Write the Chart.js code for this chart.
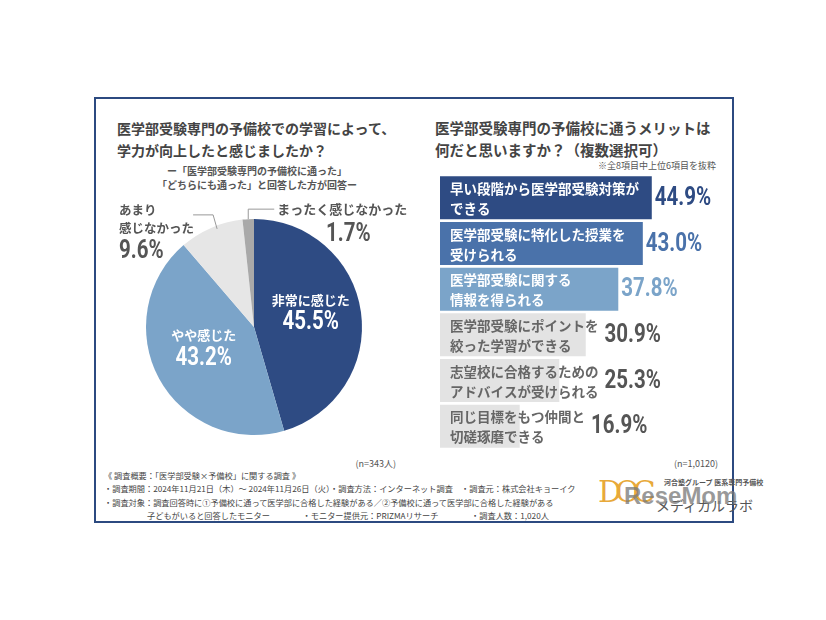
<!DOCTYPE html>
<html><head><meta charset="utf-8">
<script src="https://cdn.jsdelivr.net/npm/chart.js@4.4.0/dist/chart.umd.min.js"></script>
<style>
body{margin:0;background:#fff;width:826px;height:620px;position:relative;overflow:hidden;font-family:"Noto Sans CJK JP","Noto Sans",sans-serif;}
.frame{position:absolute;left:94px;top:97px;width:640px;height:426px;border:2px solid #2c4a80;box-sizing:border-box;}
.t{position:absolute;white-space:nowrap;color:#444;font-weight:bold;}
.title{font-size:14px;line-height:22px;}
.sub{font-size:10px;line-height:14px;text-align:center;color:#555;}
.note{font-size:9px;line-height:12px;color:#555;font-weight:normal;}
.foot{font-size:8.2px;line-height:13.3px;color:#444;font-weight:normal;}
canvas{position:absolute;}
</style></head><body>
<div class="frame"></div>
<div class="t title" style="left:117px;top:117px;">医学部受験専門の予備校での学習によって、<br>学力が向上したと感じましたか？</div>
<div class="t sub" style="left:157px;top:164px;width:200px;">ー「医学部受験専門の予備校に通った」<br>「どちらにも通った」と回答した方が回答ー</div>
<div class="t title" style="left:435px;top:117px;font-size:14.5px;">医学部受験専門の予備校に通うメリットは<br>何だと思いますか？（複数選択可）</div>
<div class="t note" style="right:110px;top:160px;">※全8項目中上位6項目を抜粋</div>
<div class="t note" style="right:430px;top:458px;">(n=343人)</div>
<div class="t note" style="right:108px;top:458px;">(n=1,0120)</div>
<div class="t foot" style="left:104px;top:469px;">《 調査概要：「医学部受験×予備校」に関する調査 》<br>・調査期間：2024年11月21日（木）～ 2024年11月26日（火）・調査方法：インターネット調査　・調査元：株式会社キョーイク<br>・調査対象：調査回答時に①予備校に通って医学部に合格した経験がある／②予備校に通って医学部に合格した経験がある<br><span style="padding-left:43px">子どもがいると回答したモニター　　　　・モニター提供元：PRIZMAリサーチ　　　　・調査人数：1,020人</span></div>
<div class="t" style="left:598px;top:474px;font-size:30px;line-height:36px;color:#e8a93a;font-weight:normal;font-family:'DejaVu Serif',serif;letter-spacing:-7px;">DOC</div>
<div class="t" style="left:664px;top:478px;font-size:7px;line-height:9px;color:#555;">河合塾グループ 医系専門予備校</div>
<div class="t" style="left:656px;top:496px;font-size:14px;line-height:18px;color:#555;font-weight:normal;">メディカルラボ</div>
<div class="t" style="left:624px;top:482px;font-size:24px;line-height:28px;color:rgba(120,120,120,0.75);font-family:'Liberation Sans',sans-serif;">ReseMom</div>
<canvas id="pie" width="320" height="250" style="left:100px;top:195px;width:320px;height:250px;"></canvas>
<canvas id="bar" width="300" height="284" style="left:430px;top:170px;width:300px;height:284px;"></canvas>
<script>
// ---- data ----
const pieLabels = ['非常に感じた', 'やや感じた', 'あまり感じなかった', 'まったく感じなかった'];
const pieLabelLines = [['非常に感じた'], ['やや感じた'], ['あまり', '感じなかった'], ['まったく感じなかった']];
const pieValues = [45.5, 43.2, 9.6, 1.7];
const pieColors = ['#2e4b83', '#7ba4c9', '#e6e6e6', '#a9a9a9'];

const barCategories = [
  ['早い段階から医学部受験対策が', 'できる'],
  ['医学部受験に特化した授業を', '受けられる'],
  ['医学部受験に関する', '情報を得られる'],
  ['医学部受験にポイントを', '絞った学習ができる'],
  ['志望校に合格するための', 'アドバイスが受けられる'],
  ['同じ目標をもつ仲間と', '切磋琢磨できる']
];
const barValues = [44.9, 43.0, 37.8, 30.9, 25.3, 16.9];
const barColors = ['#2e4b83', '#4a72aa', '#7ba4c9', '#e3e3e3', '#e3e3e3', '#e3e3e3'];
const barTextColors = ['#fff', '#fff', '#fff', '#666', '#666', '#666'];
const barValueColors = ['#2e4b83', '#4a72aa', '#7ba4c9', '#555', '#555', '#555'];

const JP = '"Noto Sans CJK JP","Noto Sans",sans-serif';
const NUMFONT = 'bold 25px Roboto,"Liberation Sans",sans-serif';
const SQUEEZE = 0.82;

function drawNum(ctx, text, x, y, align) {
  ctx.save();
  ctx.font = NUMFONT;
  ctx.textBaseline = 'middle';
  ctx.textAlign = align;
  ctx.translate(x, y);
  ctx.scale(SQUEEZE, 1);
  ctx.fillText(text, 0, 0);
  ctx.restore();
}

const pieLabelPlugin = {
  id: 'pieLabels',
  afterDatasetsDraw(chart) {
    const ctx = chart.ctx;
    const arcs = chart.getDatasetMeta(0).data;
    ctx.save();
    ctx.textBaseline = 'middle';
    arcs.forEach((arc, i) => {
      const mid = (arc.startAngle + arc.endAngle) / 2;
      const R = arc.outerRadius;
      const pct = pieValues[i].toFixed(1) + '%';
      if (i < 2) {
        const px = arc.x + Math.cos(mid) * R * 0.53;
        const py = arc.y + Math.sin(mid) * R * 0.53;
        ctx.fillStyle = '#fff';
        ctx.textAlign = 'center';
        ctx.font = 'bold 13px ' + JP;
        ctx.fillText(pieLabelLines[i][0], px, py - 19);
        drawNum(ctx, pct, px, py + 4, 'center');
      } else {
        const ox = arc.x + Math.cos(mid) * R;
        const oy = arc.y + Math.sin(mid) * R;
        ctx.strokeStyle = '#999';
        ctx.lineWidth = 1;
        ctx.fillStyle = '#555';
        ctx.beginPath();
        if (i === 2) {
          ctx.moveTo(ox + 6, oy + 1);
          ctx.lineTo(ox + 2, oy - 13);
          ctx.lineTo(ox - 18, oy - 13);
          ctx.stroke();
          const lx = ox - 92;
          ctx.textAlign = 'left';
          ctx.font = 'bold 12.5px ' + JP;
          ctx.fillText(pieLabelLines[i][0], lx, oy - 18);
          ctx.fillText(pieLabelLines[i][1], lx, oy);
          drawNum(ctx, pct, lx, oy + 24, 'left');
        } else {
          ctx.moveTo(ox, oy);
          ctx.lineTo(ox, oy - 10);
          ctx.lineTo(ox + 26, oy - 10);
          ctx.stroke();
          ctx.textAlign = 'left';
          ctx.font = 'bold 13px ' + JP;
          ctx.fillText(pieLabelLines[i][0], ox + 29, oy - 10);
          drawNum(ctx, pct, ox + 100, oy + 16, 'center');
        }
      }
    });
    ctx.restore();
  }
};

new Chart(document.getElementById('pie'), {
  type: 'pie',
  data: { labels: pieLabels, datasets: [{ data: pieValues, backgroundColor: pieColors, borderWidth: 0 }] },
  options: {
    responsive: false, animation: false, events: [],
    layout: { padding: { left: 46, right: 58, top: 24, bottom: 10 } },
    plugins: { legend: { display: false }, tooltip: { enabled: false } }
  },
  plugins: [pieLabelPlugin]
});

const barLabelPlugin = {
  id: 'barLabels',
  afterDatasetsDraw(chart) {
    const ctx = chart.ctx;
    const bars = chart.getDatasetMeta(0).data;
    ctx.save();
    ctx.textBaseline = 'middle';
    ctx.textAlign = 'left';
    bars.forEach((bar, i) => {
      const tx = bar.base + 10;
      ctx.font = 'bold 13.5px ' + JP;
      ctx.fillStyle = barTextColors[i];
      const lines = barCategories[i];
      ctx.fillText(lines[0], tx, bar.y - 9);
      ctx.fillText(lines[1], tx, bar.y + 11);
      const w = Math.max(ctx.measureText(lines[0]).width, ctx.measureText(lines[1]).width);
      const vx = Math.max(bar.x + 3, tx + w + 6);
      ctx.fillStyle = barValueColors[i];
      drawNum(ctx, barValues[i].toFixed(1) + '%', vx, bar.y + 1, 'left');
    });
    ctx.restore();
  }
};

new Chart(document.getElementById('bar'), {
  type: 'bar',
  data: { labels: barCategories.map(c => c.join('')), datasets: [{ data: barValues, backgroundColor: barColors, borderWidth: 0, barPercentage: 0.94, categoryPercentage: 1 }] },
  options: {
    indexAxis: 'y', responsive: false, animation: false, events: [],
    layout: { padding: { left: 10, right: 7, top: 5, bottom: 5 } },
    scales: {
      x: { min: 0, max: 60, display: false },
      y: { display: false }
    },
    plugins: { legend: { display: false }, tooltip: { enabled: false } }
  },
  plugins: [barLabelPlugin]
});
</script>
</body></html>
